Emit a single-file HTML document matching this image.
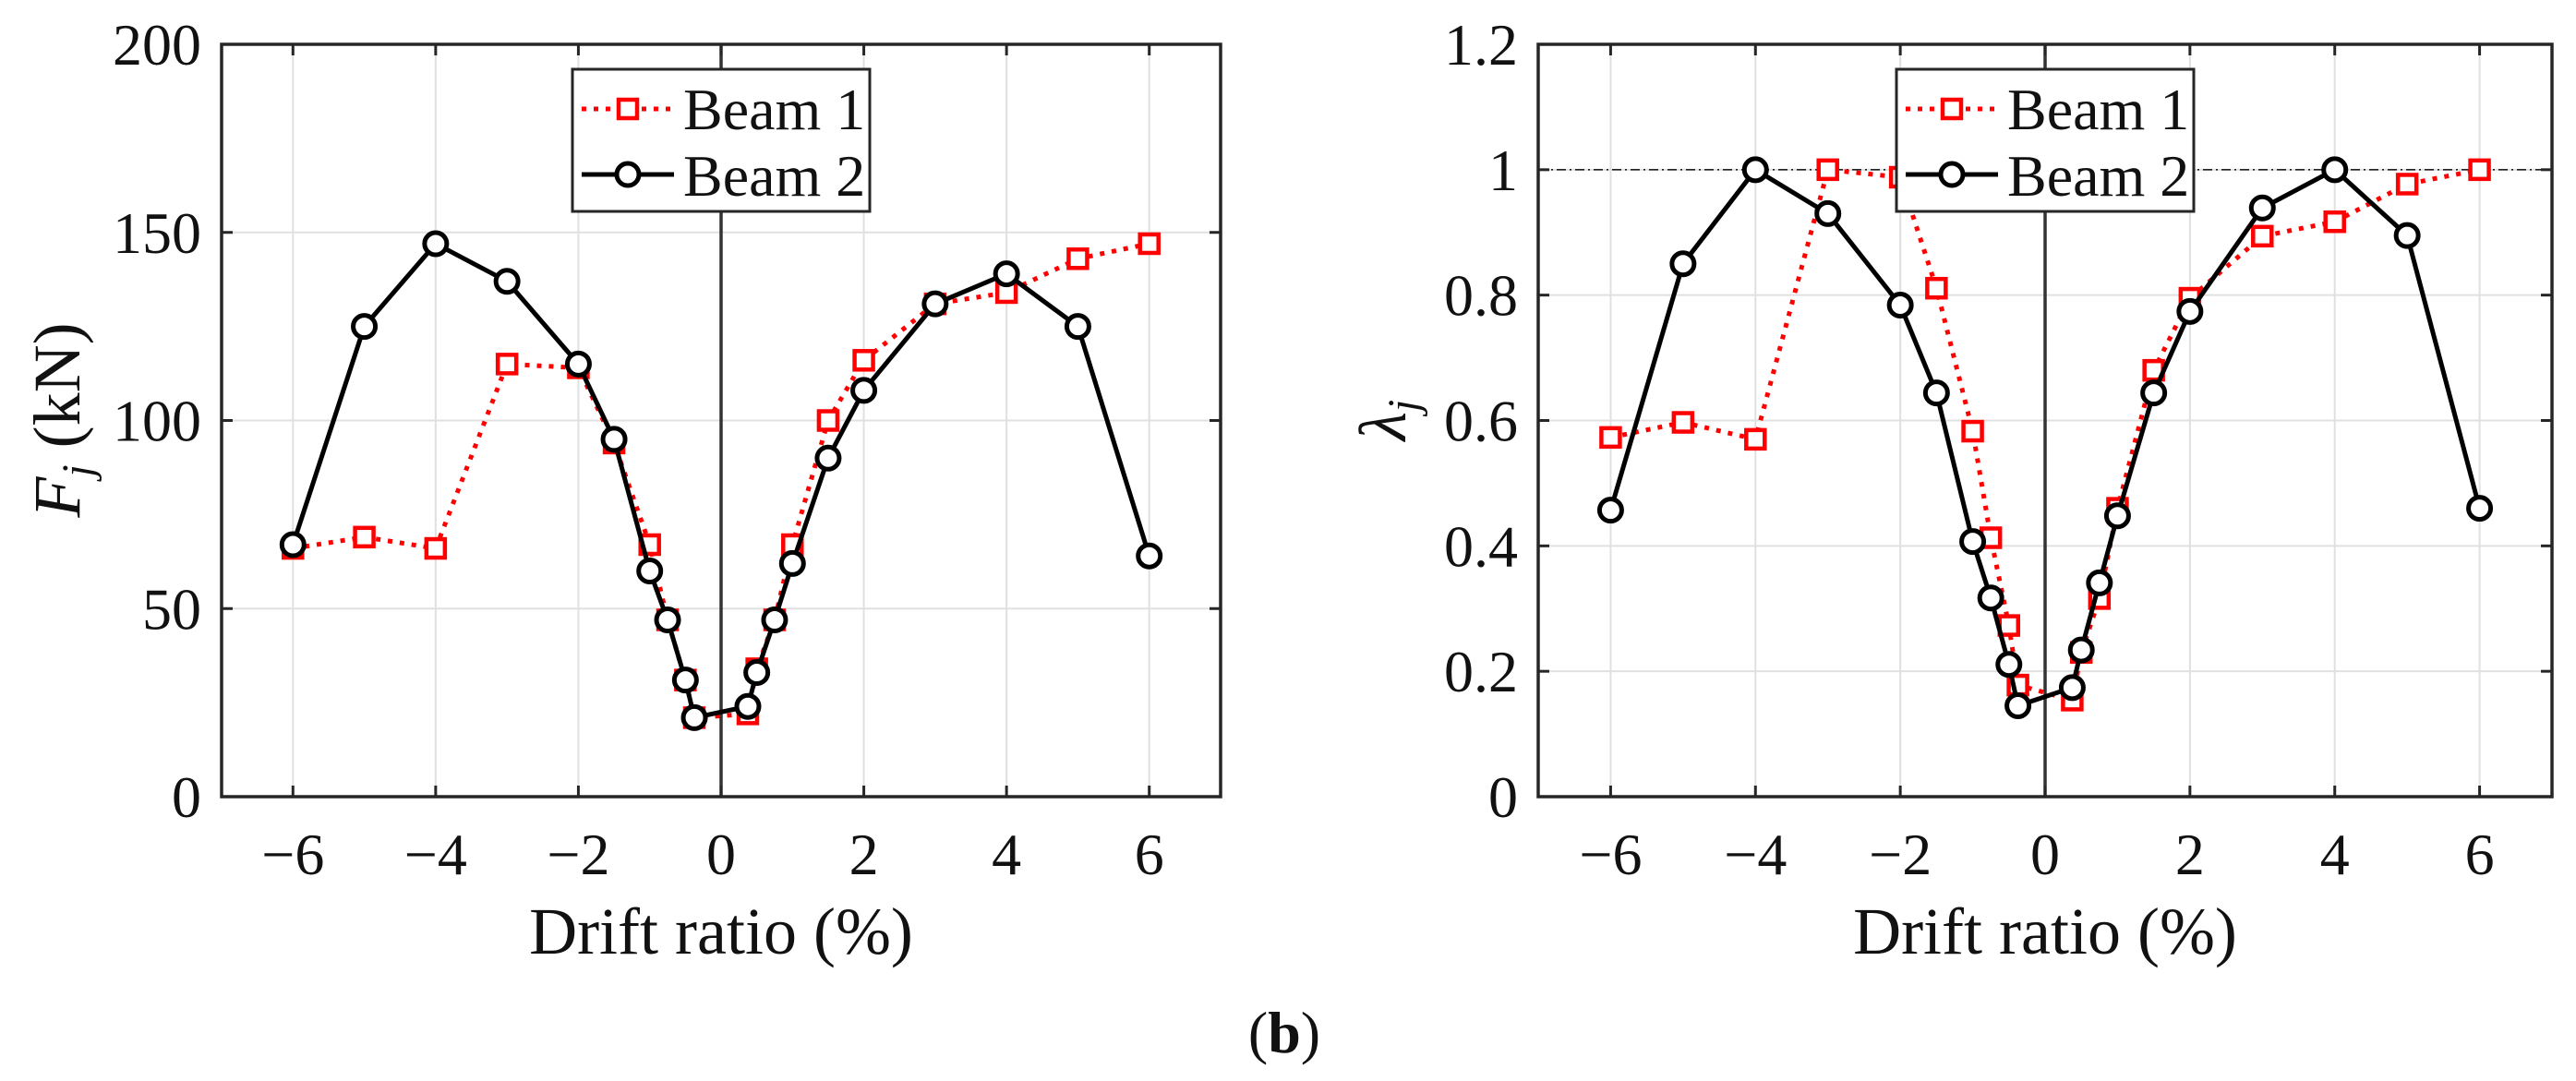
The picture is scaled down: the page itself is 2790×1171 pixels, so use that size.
<!DOCTYPE html>
<html><head><meta charset="utf-8">
<style>
html,body{margin:0;padding:0;background:#fff;}
svg{display:block;font-family:"Liberation Serif",serif;}
</style></head>
<body>
<svg id="fig" width="2790" height="1171" viewBox="0 0 2790 1171" xmlns="http://www.w3.org/2000/svg"></svg>
<script>
const driftX = [-6,-5,-4,-3,-2,-1.5,-1,-0.75,-0.5,-0.375,0.375,0.5,0.75,1,1.5,2,3,4,5,6];
const forceBeam1 = [66,69,66,115,114,94,67,47,31,21,22,34,47,67,100,116,131,134,143,147];
const forceBeam2 = [67,125,147,137,115,95,60,47,31,21,24,33,47,62,90,108,131,139,125,64];
const lambdaBeam1 = [0.573,0.597,0.570,1.0,0.988,0.811,0.583,0.413,0.273,0.178,0.154,0.23,0.316,0.46,0.68,0.795,0.894,0.917,0.977,1.0];
const lambdaBeam2 = [0.457,0.85,1.0,0.93,0.784,0.644,0.407,0.317,0.211,0.145,0.174,0.234,0.341,0.448,0.644,0.774,0.939,1.0,0.895,0.46];
const xTicks = [-6,-4,-2,0,2,4,6];
const xTickLabels = ["\u22126","\u22124","\u22122","0","2","4","6"];
const fTicks = [0,50,100,150,200];
const fTickLabels = ["0","50","100","150","200"];
const lTicks = [0,0.2,0.4,0.6,0.8,1,1.2];
const lTickLabels = ["0","0.2","0.4","0.6","0.8","1","1.2"];

const NS="http://www.w3.org/2000/svg";
const svg=document.getElementById('fig');
function mk(tag,attrs,parent){const e=document.createElementNS(NS,tag);for(const k in attrs)e.setAttribute(k,attrs[k]);(parent||svg).appendChild(e);return e;}

function panel(opt){
  const g=mk('g',{});
  
  
  const L=opt.L,R=opt.R,T=48,B=863;
  const sx=v=>L+(v+7)/14*(R-L);
  const sy=v=>B-(v-opt.ymin)/(opt.ymax-opt.ymin)*(B-T);
  xTicks.forEach(t=>{const l=mk('line',{x1:sx(t),x2:sx(t),y1:T,y2:B,stroke:'#e0e0e0','stroke-width':2},g);
    
    });
  opt.yt.forEach(t=>{const l=mk('line',{x1:L,x2:R,y1:sy(t),y2:sy(t),stroke:'#e0e0e0','stroke-width':2},g);
    
    });
  if(opt.refLine){const l=mk('line',{x1:L,x2:R,y1:sy(1),y2:sy(1),stroke:'#222','stroke-width':1.6,'stroke-dasharray':'10,4,2,4'},g);
    
    }
  const z=mk('line',{x1:sx(0),x2:sx(0),y1:T,y2:B,stroke:'#333','stroke-width':3.5},g);
  
  
  xTicks.forEach((t,i)=>{
    mk('line',{x1:sx(t),x2:sx(t),y1:B,y2:B-12,stroke:'#262626','stroke-width':3},g);
    mk('line',{x1:sx(t),x2:sx(t),y1:T,y2:T+12,stroke:'#262626','stroke-width':3},g);
    const tx=mk('text',{x:sx(t),y:947,'font-size':64,'text-anchor':'middle',fill:'#111'},g);
    tx.textContent=xTickLabels[i];
    
    
  });
  opt.yt.forEach((t,i)=>{
    mk('line',{x1:L,x2:L+12,y1:sy(t),y2:sy(t),stroke:'#262626','stroke-width':3},g);
    mk('line',{x1:R,x2:R-12,y1:sy(t),y2:sy(t),stroke:'#262626','stroke-width':3},g);
    const tx=mk('text',{x:L-22,y:sy(t)+22,'font-size':64,'text-anchor':'end',fill:'#111'},g);
    tx.textContent=opt.ytl[i];
    
    
  });
  const box=mk('rect',{x:L,y:T,width:R-L,height:B-T,fill:'none',stroke:'#262626','stroke-width':3.5},g);
  
  
  const p1=driftX.map((x,i)=>sx(x)+','+sy(opt.s1[i])).join(' ');
  const p2=driftX.map((x,i)=>sx(x)+','+sy(opt.s2[i])).join(' ');
  const l1=mk('polyline',{points:p1,fill:'none',stroke:'#ff0000','stroke-width':5,'stroke-dasharray':'5,8'},g);
  
  
  driftX.forEach((x,i)=>{const r=mk('rect',{x:sx(x)-10,y:sy(opt.s1[i])-10,width:20,height:20,fill:'#fff',stroke:'#ff0000','stroke-width':4.5},g);
    
    });
  const l2=mk('polyline',{points:p2,fill:'none',stroke:'#000','stroke-width':5},g);
  
  
  driftX.forEach((x,i)=>{const c=mk('circle',{cx:sx(x),cy:sy(opt.s2[i]),r:12,fill:'#fff',stroke:'#000','stroke-width':5},g);
    
    });
  const lg=mk('g',{},g);
  
  
  const lx=opt.legX;
  mk('rect',{x:lx,y:75,width:322,height:154,fill:'#fff',stroke:'#262626','stroke-width':3},lg);
  mk('line',{x1:lx+10,x2:lx+110,y1:118,y2:118,stroke:'#ff0000','stroke-width':5,'stroke-dasharray':'5,8'},lg);
  mk('rect',{x:lx+50,y:108,width:20,height:20,fill:'#fff',stroke:'#ff0000','stroke-width':4.5},lg);
  const t1=mk('text',{x:lx+120,y:140,'font-size':64,fill:'#111'},lg);t1.textContent='Beam 1';
  
  
  mk('line',{x1:lx+10,x2:lx+110,y1:189,y2:189,stroke:'#000','stroke-width':5},lg);
  mk('circle',{cx:lx+60,cy:189,r:12,fill:'#fff',stroke:'#000','stroke-width':5},lg);
  const t2=mk('text',{x:lx+120,y:212,'font-size':64,fill:'#111'},lg);t2.textContent='Beam 2';
  
  
  const xl=mk('text',{x:(L+R)/2,y:1033,'font-size':72,'text-anchor':'middle',fill:'#111'},g);
  xl.textContent='Drift ratio (%)';
  
  
  return g;
}

panel({name:'force-chart',L:240,R:1322,ymin:0,ymax:200,yt:fTicks,ytl:fTickLabels,s1:forceBeam1,s2:forceBeam2,legX:620,refLine:false});
panel({name:'lambda-chart',L:1666,R:2764,ymin:0,ymax:1.2,yt:lTicks,ytl:lTickLabels,s1:lambdaBeam1,s2:lambdaBeam2,legX:2054,refLine:true});

const yl1=mk('text',{x:0,y:0,'font-size':72,'text-anchor':'middle',fill:'#111',transform:'translate(86,455) rotate(-90)'});
yl1.innerHTML='<tspan font-style="italic">F</tspan><tspan font-style="italic" font-size="48" dy="14">j</tspan><tspan dy="-14">  (kN)</tspan>';


const yl2=mk('text',{x:0,y:0,'font-size':72,'text-anchor':'middle',fill:'#111',transform:'translate(1522,455) rotate(-90)'});
yl2.innerHTML='<tspan font-style="italic">λ</tspan><tspan font-style="italic" font-size="48" dy="14">j</tspan>';


const cap=mk('text',{x:1391,y:1140,'font-size':64,'text-anchor':'middle',fill:'#111'});
cap.innerHTML='(<tspan font-weight="bold">b</tspan>)';


</script>
</body></html>
